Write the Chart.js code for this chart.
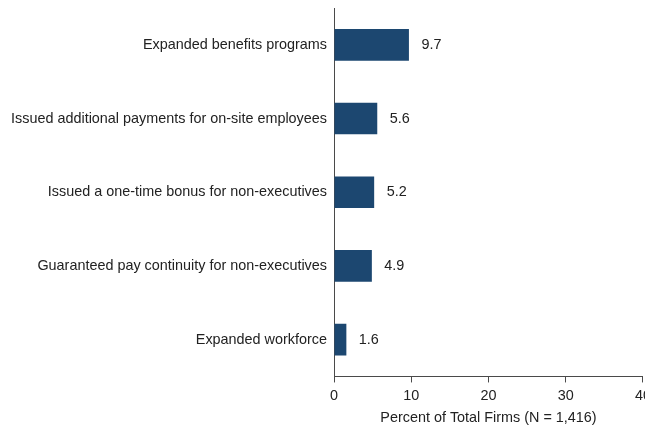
<!DOCTYPE html>
<html lang="en">
<head>
  <meta charset="UTF-8">
  <title>Percent of Total Firms</title>
  <style>
    html, body { margin: 0; padding: 0; background: white; overflow: hidden; }
    #wrap { width: 660px; height: 430px; }
  </style>
</head>
<body>
  <div id="wrap"><canvas id="chart" width="656" height="430"></canvas></div>

  <script src="https://cdn.jsdelivr.net/npm/chart.js"></script>
  <script>
    // Data
    const categories = [
      'Expanded benefits programs',
      'Issued additional payments for on-site employees',
      'Issued a one-time bonus for non-executives',
      'Guaranteed pay continuity for non-executives',
      'Expanded workforce'
    ];
    const values = [9.7, 5.6, 5.2, 4.9, 1.6];
    const xTicks = [0, 10, 20, 30, 40];

    const barColor = '#1c4770';
    const textColor = '#222';
    const axisColor = '#4a4a4a';
    const font = { family: '"Liberation Sans", Arial, sans-serif', size: 14.4 };

    // Value labels at the end of each bar
    const valueLabels = {
      id: 'valueLabels',
      afterDatasetsDraw(chart) {
        const ctx = chart.ctx;
        const meta = chart.getDatasetMeta(0);
        ctx.save();
        ctx.font = '14.4px "Liberation Sans", Arial, sans-serif';
        ctx.fillStyle = textColor;
        ctx.textAlign = 'left';
        ctx.textBaseline = 'middle';
        meta.data.forEach((bar, i) => {
          ctx.fillText(values[i].toFixed(1), bar.x + 12.5, bar.y);
        });
        ctx.restore();
      }
    };

    const ctx = document.getElementById('chart').getContext('2d');
    new Chart(ctx, {
      type: 'bar',
      data: {
        labels: categories,
        datasets: [{
          data: values,
          backgroundColor: barColor,
          borderWidth: 0,
          categoryPercentage: 1,
          barPercentage: 0.43
        }]
      },
      options: {
        indexAxis: 'y',
        responsive: false,
        animation: false,
        layout: { padding: { top: 8, right: 0, left: 0, bottom: 3 } },
        plugins: {
          legend: { display: false },
          tooltip: { enabled: false }
        },
        scales: {
          x: {
            min: 0,
            max: 40,
            afterBuildTicks(scale) {
              scale.ticks = xTicks.map(v => ({ value: v }));
            },
            grid: {
              display: true,
              drawOnChartArea: false,
              drawTicks: true,
              tickLength: 6,
              color: axisColor
            },
            border: { display: true, color: axisColor, width: 1 },
            ticks: { color: textColor, padding: 5, font: font },
            title: {
              display: true,
              text: 'Percent of Total Firms (N = 1,416)',
              color: textColor,
              padding: { top: 0, bottom: 0 },
              font: font
            }
          },
          y: {
            grid: { display: false, drawTicks: false },
            border: { display: true, color: axisColor, width: 1 },
            afterFit(scale) {
              scale.width = 334;
              scale.paddingTop = 0;
              scale.paddingBottom = 0;
            },
            ticks: { color: textColor, padding: 7, font: font }
          }
        }
      },
      plugins: [valueLabels]
    });
  </script>
</body>
</html>
